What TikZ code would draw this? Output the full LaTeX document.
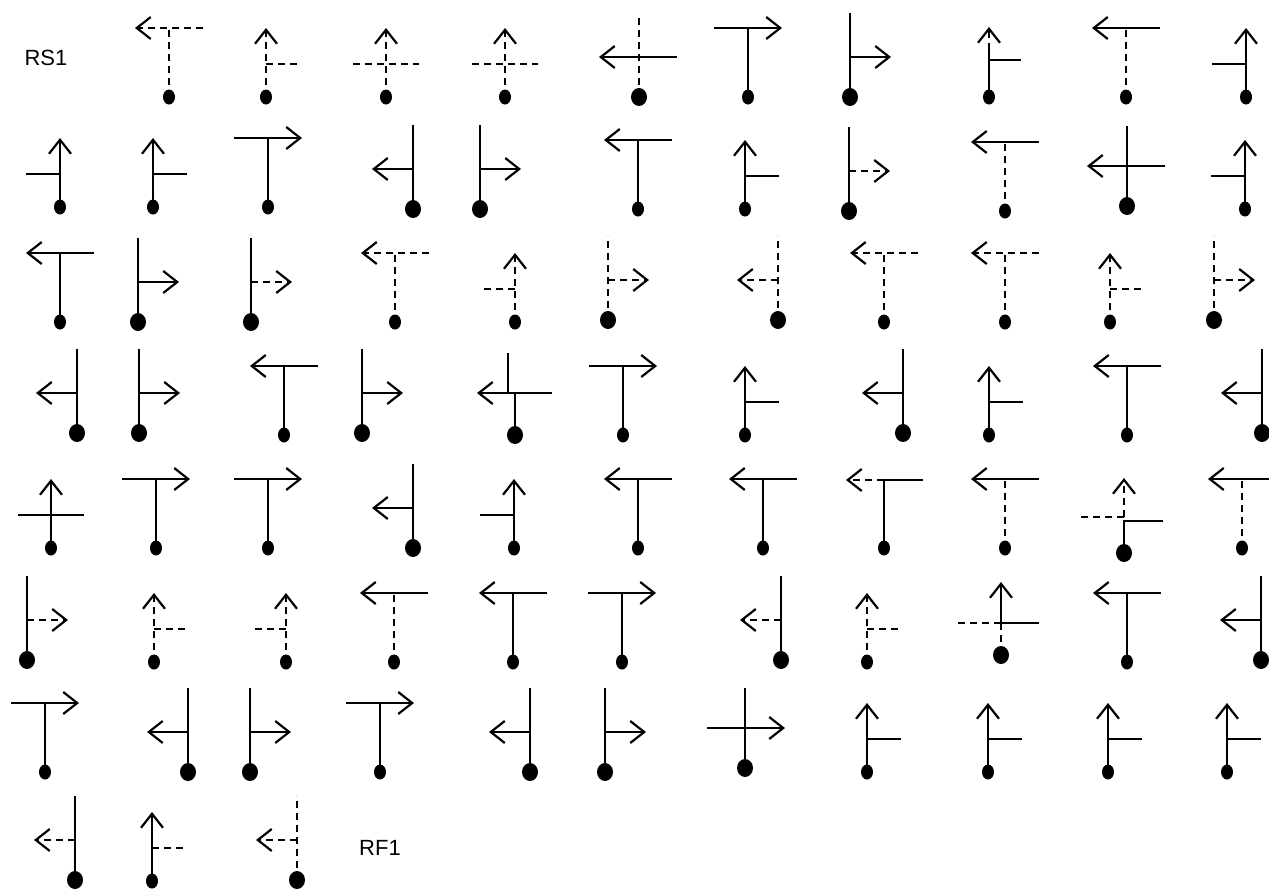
\documentclass[tikz,border=0pt]{standalone}
\usepackage{fontspec}
\setsansfont{Liberation Sans}
\usetikzlibrary{arrows.meta}

\begin{document}
\begin{tikzpicture}[x=1pt,y=-1pt,line width=2.2pt,
  font=\sffamily\fontsize{22}{26}\selectfont,
  dashed/.style={dash pattern=on 7pt off 5pt},
  arrowtip/.style={-{Straight Barb[length=14pt,width=22pt]}},
  smalldot/.style={x radius=6,y radius=7.5},
  bigdot/.style={x radius=8,y radius=9},
  % T with the arrow to the left / right
  pics/tl/.style n args={3}{code={
    \draw[#1] (0,0) -- (0,-69);
    \draw[#2,arrowtip] (34,-69) -- (-34,-69);
    \fill (0,0) ellipse[#3];}},
  pics/tr/.style n args={3}{code={
    \draw[#1] (0,0) -- (0,-69);
    \draw[#2,arrowtip] (-34,-69) -- (34,-69);
    \fill (0,0) ellipse[#3];}},
  % arrow up with a stub right / left / across
  pics/ur/.style n args={3}{code={
    \draw[#1,arrowtip] (0,0) -- (0,-69);
    \draw[#2] (0,-33) -- (34,-33);
    \fill (0,0) ellipse[#3];}},
  pics/ul/.style n args={3}{code={
    \draw[#1,arrowtip] (0,0) -- (0,-69);
    \draw[#2] (0,-33) -- (-34,-33);
    \fill (0,0) ellipse[#3];}},
  pics/ux/.style n args={3}{code={
    \draw[#1,arrowtip] (0,0) -- (0,-69);
    \draw[#2] (-33,-33) -- (33,-33);
    \fill (0,0) ellipse[#3];}},
  % high stem with the arrow off its side
  pics/sl/.style n args={3}{code={
    \draw[#1] (0,0) -- (0,-84);
    \draw[#2,arrowtip] (0,-40) -- (-41,-40);
    \fill (0,0) ellipse[#3];}},
  pics/sr/.style n args={3}{code={
    \draw[#1] (0,0) -- (0,-84);
    \draw[#2,arrowtip] (0,-40) -- (41,-40);
    \fill (0,0) ellipse[#3];}},
  % high stem with the arrow across
  pics/xl/.style n args={3}{code={
    \draw[#1] (0,0) -- (0,-80);
    \draw[#2,arrowtip] (38,-40) -- (-40,-40);
    \fill (0,0) ellipse[#3];}},
  pics/xr/.style n args={3}{code={
    \draw[#1] (0,0) -- (0,-80);
    \draw[#2,arrowtip] (-38,-40) -- (40,-40);
    \fill (0,0) ellipse[#3];}}]

  \fill[white] (0,0) rectangle (1269,892);
  \useasboundingbox (0,0) rectangle (1269,892);

  % row 1
  \node (rs1) at (46,58) {RS1};
  \pic at (169,97)  {tl={dashed}{dashed}{smalldot}};
  \pic at (266,97)  {ur={dashed}{dashed}{smalldot}};
  \pic at (386,97)  {ux={dashed}{dashed}{smalldot}};
  \pic at (505,97)  {ux={dashed}{dashed}{smalldot}};
  \pic at (639,97)  {xl={dashed}{solid}{bigdot}};
  \pic at (748,97)  {tr={solid}{solid}{smalldot}};
  \pic at (850,97)  {sr={solid}{solid}{bigdot}};
  \begin{scope}[shift={(989,97)}]
    \draw (0,0) -- (0,-47);
    \draw[dashed,arrowtip] (0,-47) -- (0,-70);
    \draw (0,-37) -- (32,-37);
    \fill (0,0) ellipse[smalldot];
  \end{scope}
  \pic at (1126,97) {tl={dashed}{solid}{smalldot}};
  \pic at (1246,97) {ul={solid}{solid}{smalldot}};

  % row 2
  \pic at (60,207)   {ul={solid}{solid}{smalldot}};
  \pic at (153,207)  {ur={solid}{solid}{smalldot}};
  \pic at (268,207)  {tr={solid}{solid}{smalldot}};
  \pic at (413,209)  {sl={solid}{solid}{bigdot}};
  \pic at (480,209)  {sr={solid}{solid}{bigdot}};
  \pic at (638,209)  {tl={solid}{solid}{smalldot}};
  \pic at (745,209)  {ur={solid}{solid}{smalldot}};
  \pic at (849,211)  {sr={solid}{dashed}{bigdot}};
  \pic at (1005,211) {tl={dashed}{solid}{smalldot}};
  \pic at (1127,206) {xl={solid}{solid}{bigdot}};
  \pic at (1245,209) {ul={solid}{solid}{smalldot}};

  % row 3
  \pic at (60,322)   {tl={solid}{solid}{smalldot}};
  \pic at (138,322)  {sr={solid}{solid}{bigdot}};
  \pic at (251,322)  {sr={solid}{dashed}{bigdot}};
  \pic at (395,322)  {tl={dashed}{dashed}{smalldot}};
  \pic at (515,322)  {ul={dashed}{dashed}{smalldot}};
  \pic at (608,320)  {sr={dashed}{dashed}{bigdot}};
  \pic at (778,320)  {sl={dashed}{dashed}{bigdot}};
  \pic at (884,322)  {tl={dashed}{dashed}{smalldot}};
  \pic at (1005,322) {tl={dashed}{dashed}{smalldot}};
  \pic at (1110,322) {ur={dashed}{dashed}{smalldot}};
  \pic at (1214,320) {sr={dashed}{dashed}{bigdot}};

  % row 4
  \pic at (77,433)   {sl={solid}{solid}{bigdot}};
  \pic at (139,433)  {sr={solid}{solid}{bigdot}};
  \pic at (284,435)  {tl={solid}{solid}{smalldot}};
  \pic at (362,433)  {sr={solid}{solid}{bigdot}};
  \begin{scope}[shift={(515,435)}]
    \draw (0,0) -- (0,-42);
    \draw (-7,-42) -- (-7,-82);
    \draw[arrowtip] (37,-42) -- (-38,-42);
    \fill (0,0) ellipse[bigdot];
  \end{scope}
  \pic at (623,435)  {tr={solid}{solid}{smalldot}};
  \pic at (745,435)  {ur={solid}{solid}{smalldot}};
  \pic at (903,433)  {sl={solid}{solid}{bigdot}};
  \pic at (989,435)  {ur={solid}{solid}{smalldot}};
  \pic at (1127,435) {tl={solid}{solid}{smalldot}};
  \pic at (1262,433) {sl={solid}{solid}{bigdot}};

  % row 5
  \pic at (51,548)   {ux={solid}{solid}{smalldot}};
  \pic at (156,548)  {tr={solid}{solid}{smalldot}};
  \pic at (268,548)  {tr={solid}{solid}{smalldot}};
  \pic at (413,548)  {sl={solid}{solid}{bigdot}};
  \pic at (514,548)  {ul={solid}{solid}{smalldot}};
  \pic at (638,548)  {tl={solid}{solid}{smalldot}};
  \pic at (763,548)  {tl={solid}{solid}{smalldot}};
  \begin{scope}[shift={(884,548)}]
    \draw (0,0) -- (0,-68);
    \draw[dashed,arrowtip] (0,-68) -- (-38,-68);
    \draw (0,-68) -- (39,-68);
    \fill (0,0) ellipse[smalldot];
  \end{scope}
  \pic at (1005,548) {tl={dashed}{solid}{smalldot}};
  \begin{scope}[shift={(1124,553)}]
    \draw[dashed,arrowtip] (0,-36) -- (0,-75);
    \draw[dashed] (0,-36) -- (-46,-36);
    \draw (0,0) -- (0,-32) -- (39,-32);
    \fill (0,0) ellipse[bigdot];
  \end{scope}
  \pic at (1242,548) {tl={dashed}{solid}{smalldot}};

  % row 6
  \pic at (27,660)   {sr={solid}{dashed}{bigdot}};
  \pic at (154,662)  {ur={dashed}{dashed}{smalldot}};
  \pic at (286,662)  {ul={dashed}{dashed}{smalldot}};
  \pic at (394,662)  {tl={dashed}{solid}{smalldot}};
  \pic at (513,662)  {tl={solid}{solid}{smalldot}};
  \pic at (622,662)  {tr={solid}{solid}{smalldot}};
  \pic at (781,660)  {sl={solid}{dashed}{bigdot}};
  \pic at (867,662)  {ur={dashed}{dashed}{smalldot}};
  \begin{scope}[shift={(1001,655)}]
    \draw[arrowtip] (0,-32) -- (0,-73);
    \draw[dashed] (0,-32) -- (-45,-32);
    \draw (0,-32) -- (38,-32);
    \draw[dashed] (0,-32) -- (0,0);
    \fill (0,0) ellipse[bigdot];
  \end{scope}
  \pic at (1127,662) {tl={solid}{solid}{smalldot}};
  \pic at (1261,660) {sl={solid}{solid}{bigdot}};

  % row 7
  \pic at (45,772)   {tr={solid}{solid}{smalldot}};
  \pic at (188,772)  {sl={solid}{solid}{bigdot}};
  \pic at (250,772)  {sr={solid}{solid}{bigdot}};
  \pic at (380,772)  {tr={solid}{solid}{smalldot}};
  \pic at (530,772)  {sl={solid}{solid}{bigdot}};
  \pic at (605,772)  {sr={solid}{solid}{bigdot}};
  \pic at (745,768)  {xr={solid}{solid}{bigdot}};
  \pic at (867,772)  {ur={solid}{solid}{smalldot}};
  \pic at (988,772)  {ur={solid}{solid}{smalldot}};
  \pic at (1108,772) {ur={solid}{solid}{smalldot}};
  \pic at (1227,772) {ur={solid}{solid}{smalldot}};

  % row 8
  \pic at (75,880)   {sl={solid}{dashed}{bigdot}};
  \pic at (152,881)  {ur={solid}{dashed}{smalldot}};
  \pic at (297,880)  {sl={dashed}{dashed}{bigdot}};
  \node (rf1) at (380,848) {RF1};
\end{tikzpicture}
\end{document}
